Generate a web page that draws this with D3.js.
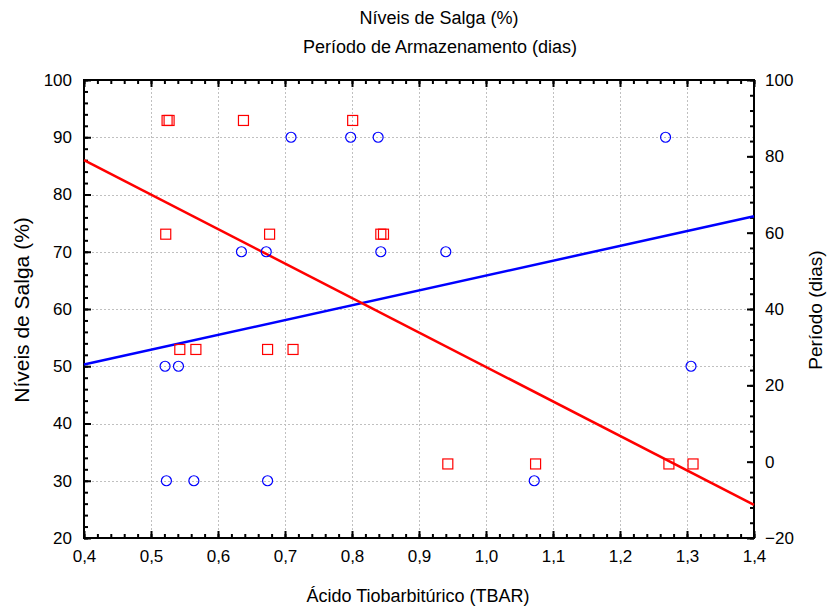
<!DOCTYPE html>
<html lang="pt">
<head>
<meta charset="utf-8">
<title>Níveis de Salga x TBAR</title>
<script src="https://cdn.jsdelivr.net/npm/d3@7"></script>
<style>
  body { margin: 0; background: #fff; }
  text { font-family: "Liberation Sans", Arial, sans-serif; fill: #000; }
</style>
</head>
<body>
<script>
// Níveis de Salga (%) vs TBAR - blue circles, left axis
var salgaX = [0.709, 0.798, 0.839, 1.268, 0.635, 0.672, 0.843, 0.940, 0.521, 0.541, 1.306, 0.523, 0.564, 0.674, 1.072];
var salgaY = [90, 90, 90, 90, 70, 70, 70, 70, 50, 50, 50, 30, 30, 30, 30];

// Período (dias) vs TBAR - red squares, right axis
var periodoX = [0.524, 0.527, 0.638, 0.801, 0.522, 0.677, 0.843, 0.847, 0.543, 0.567, 0.674, 0.712, 0.943, 1.074, 1.273, 1.309];
var periodoY = [89.4, 89.4, 89.4, 89.4, 59.6, 59.6, 59.6, 59.6, 29.4, 29.4, 29.4, 29.4, -0.6, -0.6, -0.6, -0.6];

// fitted lines (ends read at x = 0.4 and 1.4)
var fitX = [0.4, 1.4];
var salgaFit = [50.3, 76.2];
var periodoFit = [79.0, -11.3];

var W = 827, H = 607;
var m = { left: 84, right: 73, top: 80, bottom: 69 };
var w = W - m.left - m.right;  // 670
var h = H - m.top - m.bottom;  // 458

var svg = d3.select("body").append("svg")
  .attr("width", W).attr("height", H);

var x = d3.scaleLinear().domain([0.4, 1.4]).range([m.left, m.left + w]);
var yL = d3.scaleLinear().domain([20, 100]).range([m.top + h, m.top]);
var yR = d3.scaleLinear().domain([-20, 100]).range([m.top + h, m.top]);

var br = d3.formatLocale({ decimal: ",", thousands: ".", grouping: [3], currency: ["", ""] });
var fmtX = br.format(".1f");

// grid (dotted)
var grid = svg.append("g").attr("stroke", "#c0c0c0").attr("stroke-dasharray", "2,2").attr("stroke-width", 1);
grid.selectAll(".gx").data(d3.range(0.5, 1.35, 0.1)).enter().append("line")
  .attr("x1", d => Math.round(x(d)) + 0.5).attr("x2", d => Math.round(x(d)) + 0.5)
  .attr("y1", m.top).attr("y2", m.top + h);
grid.selectAll(".gy").data(d3.range(30, 95, 10)).enter().append("line")
  .attr("y1", d => Math.round(yL(d)) + 0.5).attr("y2", d => Math.round(yL(d)) + 0.5)
  .attr("x1", m.left).attr("x2", m.left + w);

// axes with inward ticks
function styleAxis(g) {
  g.select(".domain").remove();
  g.selectAll("line").attr("stroke", "#000").attr("stroke-width", 2);
  g.selectAll("text").style("font-size", "17px").attr("fill", "#000");
}

var xMinor = d3.range(0.4, 1.401, 0.02);
var xMajor = d3.range(0.4, 1.401, 0.1);

svg.append("g").attr("transform", "translate(0," + (m.top + h) + ")")
  .call(d3.axisBottom(x).tickValues(xMinor).tickSize(-4).tickFormat(""))
  .call(styleAxis);
svg.append("g").attr("transform", "translate(0," + (m.top + h) + ")")
  .call(d3.axisBottom(x).tickValues(xMajor).tickSizeInner(-7).tickSizeOuter(0).tickPadding(12).tickFormat(fmtX))
  .call(styleAxis);
svg.append("g").attr("transform", "translate(0," + m.top + ")")
  .call(d3.axisTop(x).tickValues(xMinor).tickSize(-4).tickFormat(""))
  .call(styleAxis);
svg.append("g").attr("transform", "translate(0," + m.top + ")")
  .call(d3.axisTop(x).tickValues(xMajor).tickSize(-7).tickFormat(""))
  .call(styleAxis);

svg.append("g").attr("transform", "translate(" + m.left + ",0)")
  .call(d3.axisLeft(yL).tickValues(d3.range(20, 100.1, 2)).tickSize(-4).tickFormat(""))
  .call(styleAxis);
svg.append("g").attr("transform", "translate(" + m.left + ",0)")
  .call(d3.axisLeft(yL).tickValues(d3.range(20, 100.1, 10)).tickSizeInner(-7).tickPadding(12).tickFormat(d3.format("d")))
  .call(styleAxis);

svg.append("g").attr("transform", "translate(" + (m.left + w) + ",0)")
  .call(d3.axisRight(yR).tickValues(d3.range(-20, 100.1, 4)).tickSize(-4).tickFormat(""))
  .call(styleAxis);
svg.append("g").attr("transform", "translate(" + (m.left + w) + ",0)")
  .call(d3.axisRight(yR).tickValues(d3.range(-20, 100.1, 20)).tickSizeInner(-7).tickPadding(11).tickFormat(d3.format("d")))
  .call(styleAxis);

// frame
svg.append("rect")
  .attr("x", m.left).attr("y", m.top).attr("width", w).attr("height", h)
  .attr("fill", "none").attr("stroke", "#000").attr("stroke-width", 2);

// fitted lines
var plot = svg.append("g");
plot.append("path")
  .datum(fitX.map((d, i) => [d, salgaFit[i]]))
  .attr("d", d3.line().x(d => x(d[0])).y(d => yL(d[1])))
  .attr("stroke", "#0000ff").attr("stroke-width", 2.5).attr("fill", "none");
plot.append("path")
  .datum(fitX.map((d, i) => [d, periodoFit[i]]))
  .attr("d", d3.line().x(d => x(d[0])).y(d => yR(d[1])))
  .attr("stroke", "#ff0000").attr("stroke-width", 2.5).attr("fill", "none");

// points
plot.selectAll(".sq").data(periodoX).enter().append("rect")
  .attr("x", (d, i) => x(d) - 5).attr("y", (d, i) => yR(periodoY[i]) - 5)
  .attr("width", 10).attr("height", 10)
  .attr("fill", "none").attr("stroke", "#ff0000").attr("stroke-width", 1.2);
plot.selectAll(".ci").data(salgaX).enter().append("circle")
  .attr("cx", d => x(d)).attr("cy", (d, i) => yL(salgaY[i]))
  .attr("r", 5)
  .attr("fill", "none").attr("stroke", "#0000ff").attr("stroke-width", 1.2);

// titles
svg.append("text").attr("x", 439).attr("y", 24).attr("text-anchor", "middle")
  .style("font-size", "18px").text("Níveis de Salga (%)");
svg.append("text").attr("x", 440).attr("y", 53).attr("text-anchor", "middle")
  .style("font-size", "18px").text("Período de Armazenamento (dias)");
svg.append("text").attr("x", 418).attr("y", 602).attr("text-anchor", "middle")
  .style("font-size", "18px").text("Ácido Tiobarbitúrico (TBAR)");
svg.append("text").attr("transform", "translate(29,310) rotate(-90)").attr("text-anchor", "middle")
  .style("font-size", "21px").text("Níveis de Salga (%)");
svg.append("text").attr("transform", "translate(822,310) rotate(-90)").attr("text-anchor", "middle")
  .style("font-size", "19px").text("Período (dias)");
</script>
</body>
</html>
